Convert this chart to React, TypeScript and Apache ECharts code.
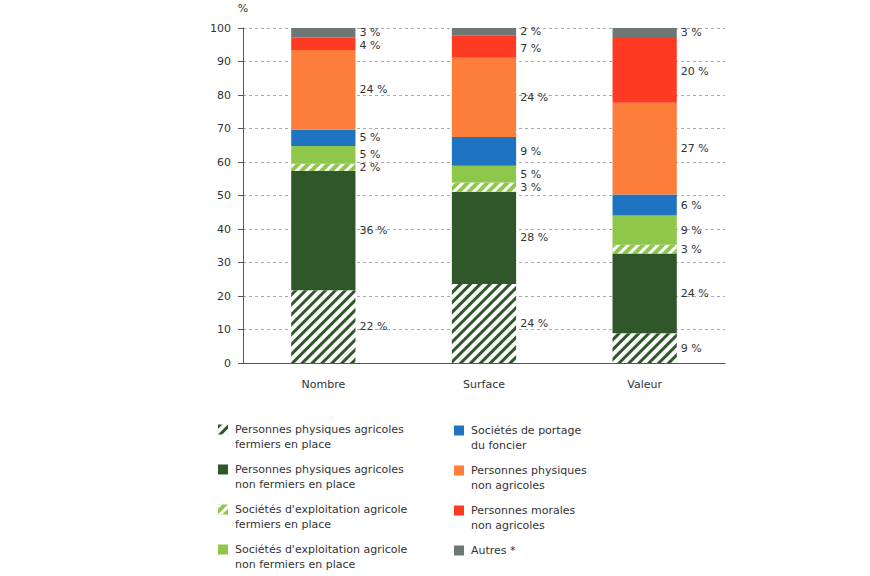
import { useEffect, useRef } from "react";
import * as echarts from "echarts";

const categories = ["Nombre", "Surface", "Valeur"];

const seriesNames = [
  "Personnes physiques agricoles\nfermiers en place",
  "Personnes physiques agricoles\nnon fermiers en place",
  "Sociétés d'exploitation agricole\nfermiers en place",
  "Sociétés d'exploitation agricole\nnon fermiers en place",
  "Sociétés de portage\ndu foncier",
  "Personnes physiques\nnon agricoles",
  "Personnes morales\nnon agricoles",
  "Autres *",
];

// parts en %, de bas en haut de la pile
const ppaFermiers = [21.7, 23.6, 8.9];
const ppaNonFermiers = [35.6, 27.5, 23.8];
const seaFermiers = [2.2, 2.8, 2.6];
const seaNonFermiers = [5.3, 5.0, 8.7];
const portage = [4.8, 8.6, 6.3];
const ppNonAgricoles = [23.8, 23.6, 27.4];
const pmNonAgricoles = [3.8, 6.6, 19.6];
const autres = [2.8, 2.3, 2.7];

const yTicks = [0, 100, 10];

const FONT = "DejaVu Sans";
const DARK_GREEN = "#30572a";
const LIGHT_GREEN = "#8fc74a";

const hatch = (color: string) => ({
  symbol: "rect",
  symbolSize: 1,
  color,
  dashArrayX: [1, 0],
  dashArrayY: [2.5, 4],
  rotation: -Math.PI / 4,
});

const values = [
  ppaFermiers,
  ppaNonFermiers,
  seaFermiers,
  seaNonFermiers,
  portage,
  ppNonAgricoles,
  pmNonAgricoles,
  autres,
];

const styles = [
  { color: "#ffffff", decal: hatch(DARK_GREEN) },
  { color: DARK_GREEN },
  { color: LIGHT_GREEN, decal: hatch("#ffffff") },
  { color: LIGHT_GREEN },
  { color: "#1f74c2" },
  { color: "#fd7d3b" },
  { color: "#fe3b22" },
  { color: "#6e7676" },
];

// petit décalage vertical des étiquettes serrées en haut de pile
const labelOffsets = [0, 0, 0, 0, 0, 0, 2, 0];

const legendBase = {
  orient: "vertical",
  icon: "rect",
  itemWidth: 10,
  itemHeight: 10,
  itemGap: -5,
  padding: 0,
  height: 169,
  itemStyle: { borderWidth: 0 },
  // ligne vide ajoutée pour caler la 1re ligne du texte sur le carré
  formatter: (name: string) => (name.includes("\n") ? `\n${name}` : `\n${name}\n`),
  textStyle: {
    fontFamily: FONT,
    fontSize: 11,
    color: "#333",
    lineHeight: 15,
    padding: [0, 0, 0, 2],
  },
};

export default function App() {
  const ref = useRef<HTMLDivElement | null>(null);

  useEffect(() => {
    document.body.style.margin = "0";
    if (!ref.current) return;
    const chart = echarts.init(ref.current, undefined, { renderer: "svg" });

    chart.setOption({
      animation: false,
      textStyle: { fontFamily: FONT },
      grid: { left: 243, right: 145, top: 28, bottom: 213 },
      legend: [
        { ...legendBase, left: 218, top: 407, data: seriesNames.slice(0, 4) },
        { ...legendBase, left: 454, top: 408, data: seriesNames.slice(4) },
      ],
      xAxis: {
        type: "category",
        data: categories,
        axisLine: { lineStyle: { color: "#555" } },
        axisTick: { length: 5, lineStyle: { color: "#555" } },
        axisLabel: { color: "#333", fontSize: 11, margin: 16 },
      },
      yAxis: {
        type: "value",
        min: yTicks[0],
        max: yTicks[1],
        interval: yTicks[2],
        name: "%",
        nameGap: 14,
        nameTextStyle: { color: "#333", fontSize: 11, align: "center" },
        axisLine: { show: true, lineStyle: { color: "#555" } },
        axisTick: { show: true, length: 5, lineStyle: { color: "#555" } },
        axisLabel: { color: "#333", fontSize: 11, margin: 12 },
        splitLine: { lineStyle: { type: [3, 3], color: "#aaa" } },
      },
      series: values.map((data, i) => ({
        name: seriesNames[i],
        type: "bar",
        stack: "total",
        barWidth: "40%",
        data,
        itemStyle: styles[i],
        label: {
          show: true,
          position: "right",
          distance: 4,
          offset: [0, labelOffsets[i]],
          color: "#333",
          fontSize: 11,
          formatter: (p: any) => `${Math.round(p.value)} %`,
        },
      })),
    });

    return () => chart.dispose();
  }, []);

  return <div ref={ref} style={{ width: 870, height: 576 }} />;
}
